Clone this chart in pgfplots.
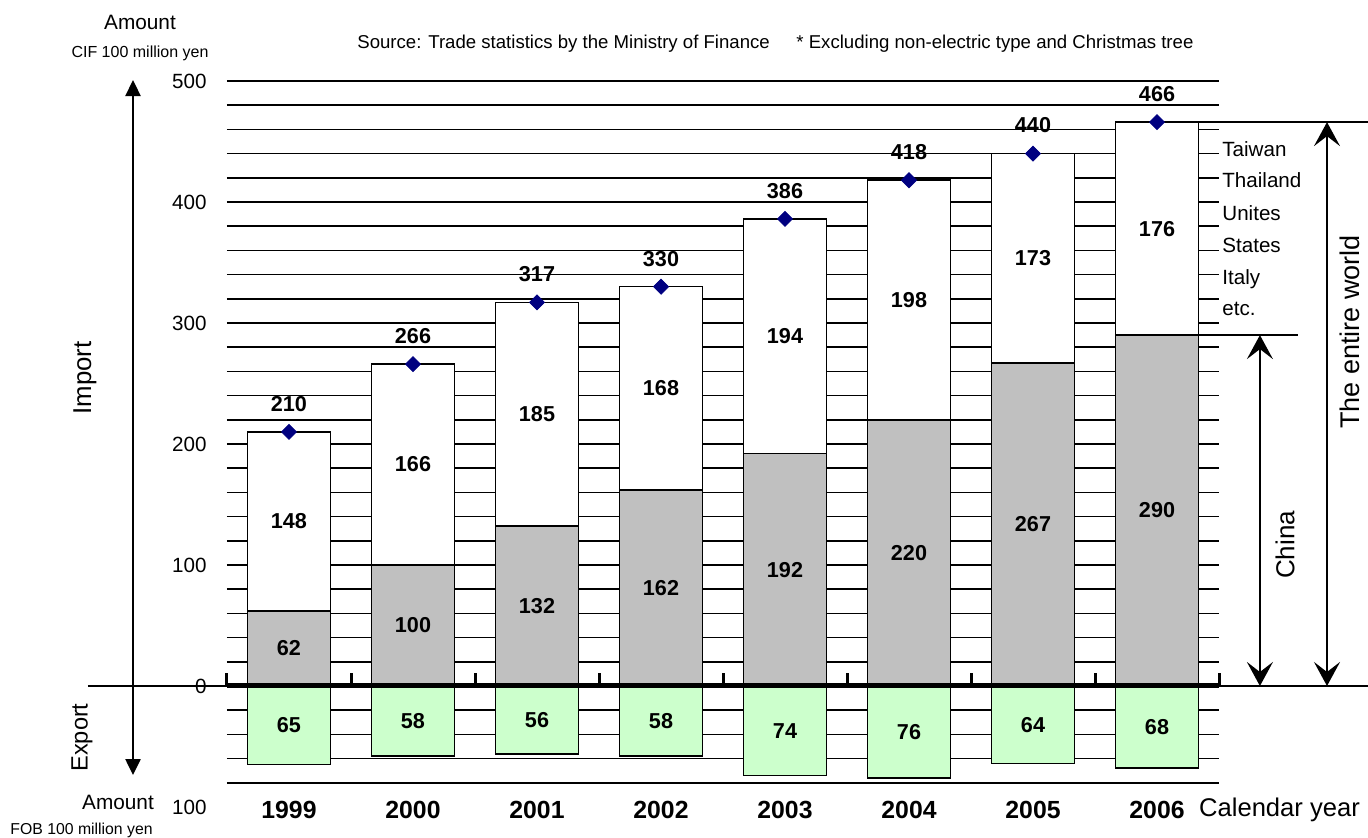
\documentclass[border=0pt]{standalone}
\usepackage{pgfplots}
\pgfplotsset{compat=1.18}
\usepackage{pgfplotstable}
\usepackage{fontspec}
\setmainfont{Liberation Sans}
\usetikzlibrary{arrows.meta}
\definecolor{chinagray}{HTML}{C0C0C0}
\definecolor{expgreen}{HTML}{CCFFCC}
\definecolor{navyblue}{HTML}{000080}
\pgfplotstableread{
x china others total export
0 62 148 210 -65
1 100 166 266 -58
2 132 185 317 -56
3 162 168 330 -58
4 192 194 386 -74
5 220 198 418 -76
6 267 173 440 -64
7 290 176 466 -68
}\datatable
\newcommand{\fs}[1]{\fontsize{#1}{#1}\selectfont}
\begin{document}
\begin{tikzpicture}
\useasboundingbox (-113.5pt,-15.5pt) rectangle (570.5pt,403.5pt);
\begin{axis}[
  at={(0pt,0pt)}, anchor=south west,
  scale only axis, width=496pt, height=363pt,
  xmin=-0.5, xmax=7.5, ymin=-100, ymax=500,
  axis line style={draw=none},
  clip=false,
  xtick={0,...,7}, xticklabels={1999,2000,2001,2002,2003,2004,2005,2006},
  xticklabel style={font=\fs{12.4}\bfseries, anchor=center, yshift=-1.5pt},
  ytick={-100,0,100,200,300,400,500},
  yticklabels={100,0,100,200,300,400,500},
  yticklabel style={font=\fs{10.3}, anchor=east, inner sep=0pt, xshift=-10pt},
  major tick length=0pt,
  /pgf/number format/assume math mode=true,
  extra y ticks={-80,-60,...,500},
  extra y tick labels={},
  extra y tick style={grid=major},
  major grid style={black, line width=0.8pt},
  bar width=0.67,
]
\addplot[ybar, bar shift=0pt, fill=white, draw=black, line width=0.8pt] table[x=x,y=total]{\datatable};
\addplot[ybar, bar shift=0pt, fill=chinagray, draw=black, line width=0.8pt] table[x=x,y=china]{\datatable};
\addplot[ybar, bar shift=0pt, fill=expgreen, draw=black, line width=0.8pt] table[x=x,y=export]{\datatable};
% segment labels
\addplot[draw=none, nodes near coords, point meta=explicit symbolic,
  every node near coord/.append style={font=\fs{10.8}\bfseries, anchor=center, inner sep=0pt}]
  table[x=x, y expr=\thisrow{china}/2, meta=china]{\datatable};
\addplot[draw=none, nodes near coords, point meta=explicit symbolic,
  every node near coord/.append style={font=\fs{10.8}\bfseries, anchor=center, inner sep=0pt}]
  table[x=x, y expr=\thisrow{china}+\thisrow{others}/2, meta=others]{\datatable};
\addplot[draw=none, point meta=explicit,
  nodes near coords={\pgfmathprintnumber[fixed,precision=0,assume math mode=true]{\pgfplotspointmeta}},
  every node near coord/.append style={font=\fs{10.8}\bfseries, anchor=center, inner sep=0pt}]
  table[x=x, y expr=\thisrow{export}/2, meta expr=-\thisrow{export}]{\datatable};
% totals
\addplot[only marks, mark=square*, mark size=2.65pt, mark options={rotate=45, fill=navyblue, draw=navyblue},
  nodes near coords, point meta=explicit symbolic,
  every node near coord/.append style={font=\fs{10.8}\bfseries, anchor=south, inner sep=0pt, yshift=10pt}]
  table[x=x, y=total, meta=total]{\datatable};
% zero lines and ticks
\draw[line width=0.8pt] (axis cs:-1.621,0) -- (axis cs:8.70,0);
\draw[line width=2.5pt] (axis cs:-0.5,0) -- (axis cs:7.5,0);
\draw[line width=1.5pt]
  (axis cs:-0.5,0) -- (axis cs:-0.5,10.7) (axis cs:0.5,0) -- (axis cs:0.5,10.7)
  (axis cs:1.5,0) -- (axis cs:1.5,10.7) (axis cs:2.5,0) -- (axis cs:2.5,10.7)
  (axis cs:3.5,0) -- (axis cs:3.5,10.7) (axis cs:4.5,0) -- (axis cs:4.5,10.7)
  (axis cs:5.5,0) -- (axis cs:5.5,10.7) (axis cs:6.5,0) -- (axis cs:6.5,10.7)
  (axis cs:7.5,0) -- (axis cs:7.5,10.7);
% right annotations
\draw[line width=0.8pt] (axis cs:7.29,466) -- (axis cs:8.70,466);
\draw[line width=0.8pt] (axis cs:7.29,290) -- (axis cs:8.137,290);
\draw[line width=1pt, {Stealth[length=12pt,width=13pt,inset=5pt]}-{Stealth[length=12pt,width=13pt,inset=5pt]}] (axis cs:7.83,290) -- (axis cs:7.83,0);
\draw[line width=1pt, {Stealth[length=12pt,width=13pt,inset=5pt]}-{Stealth[length=12pt,width=13pt,inset=5pt]}] (axis cs:8.371,466) -- (axis cs:8.371,0);
\node[rotate=90, font=\fs{13.5}] at (axis cs:8.556,292.6) {The entire world};
\node[rotate=90, font=\fs{13}] at (axis cs:8.032,116.5) {China};
\node[anchor=base west, inner sep=0pt, font=\fs{10.3}] at (axis cs:7.524,437.2) {Taiwan};
\node[anchor=base west, inner sep=0pt, font=\fs{10.3}] at (axis cs:7.524,411.6) {Thailand};
\node[anchor=base west, inner sep=0pt, font=\fs{10.3}] at (axis cs:7.524,384.3) {Unites};
\node[anchor=base west, inner sep=0pt, font=\fs{10.3}] at (axis cs:7.524,357.9) {States};
\node[anchor=base west, inner sep=0pt, font=\fs{10.3}] at (axis cs:7.524,331.4) {Italy};
\node[anchor=base west, inner sep=0pt, font=\fs{10.3}] at (axis cs:7.524,306.6) {etc.};
\node[font=\fs{12.8}] at (axis cs:7.988,-102.5) {Calendar year};
% left annotations
\draw[line width=1.2pt, {Triangle[length=8pt,width=7.5pt]}-{Triangle[length=8pt,width=7.5pt]}] (axis cs:-1.258,500.8) -- (axis cs:-1.258,-73.6);
\node[rotate=90, font=\fs{12.9}] at (axis cs:-1.645,254.5) {Import};
\node[rotate=90, font=\fs{11.8}] at (axis cs:-1.669,-42.6) {Export};
\node[font=\fs{10.4}] at (axis cs:-1.2016,548) {Amount};
\node[font=\fs{8}] at (axis cs:-1.2016,523) {CIF 100 million yen};
\node[font=\fs{10.4}] at (axis cs:-1.379,-95.9) {Amount};
\node[font=\fs{7.9}] at (axis cs:-1.673,-119) {FOB 100 million yen};
\node[anchor=west, inner sep=0pt, font=\fs{9.3}] at (axis cs:0.548,530.6) {Source: Trade statistics by the Ministry of Finance};
\node[anchor=west, inner sep=0pt, font=\fs{9.3}] at (axis cs:4.089,530.6) {* Excluding non-electric type and Christmas tree};
\end{axis}
\end{tikzpicture}
\end{document}
